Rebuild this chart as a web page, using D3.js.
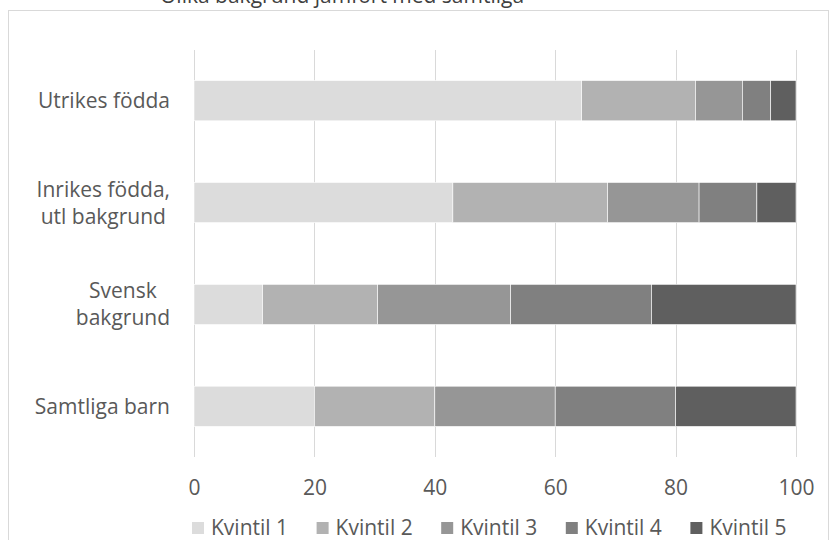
<!DOCTYPE html>
<html>
<head>
<meta charset="utf-8">
<script src="https://cdn.jsdelivr.net/npm/d3@7"></script>
<style>
  html, body { margin: 0; padding: 0; background: #fff; }
  svg { display: block; }
  text { font-family: "Open Sans", "Noto Sans", sans-serif; fill: #595959; }
</style>
</head>
<body>
<svg id="chart" width="831" height="540"></svg>
<script>
const title = "Olika bakgrund jämfört med samtliga";
const categories = ["Utrikes födda", "Inrikes födda, utl bakgrund", "Svensk bakgrund", "Samtliga barn"];
const categoryLines = [["Utrikes födda"], ["Inrikes födda,", "utl bakgrund"], ["Svensk", "bakgrund"], ["Samtliga barn"]];
const seriesNames = ["Kvintil 1", "Kvintil 2", "Kvintil 3", "Kvintil 4", "Kvintil 5"];
const kvintil1 = [64.4, 43.0, 11.4, 20];
const kvintil2 = [18.9, 25.7, 19.1, 20];
const kvintil3 = [7.8, 15.2, 22.1, 20];
const kvintil4 = [4.7, 9.6, 23.4, 20];
const kvintil5 = [4.2, 6.5, 24.0, 20];
const xTicks = [0, 20, 40, 60, 80, 100];
const colors = ["#dcdcdc", "#b2b2b2", "#969696", "#808080", "#5f5f5f"];

const seriesValues = [kvintil1, kvintil2, kvintil3, kvintil4, kvintil5];
const rows = categories.map((c, i) => {
  const r = { category: c };
  seriesNames.forEach((s, j) => r[s] = seriesValues[j][i]);
  return r;
});

const svg = d3.select("#chart");

// outer frame
svg.append("rect").attr("x", 8.5).attr("y", 10.5).attr("width", 820).attr("height", 560)
  .attr("fill", "none").attr("stroke", "#d9d9d9").attr("stroke-width", 1);

// title (partly clipped at top, as in the reference)
svg.append("text").attr("x", 160).attr("y", 3).attr("font-size", 21)
  .style("fill", "#404040").text(title);

const margin = { left: 194, right: 35, top: 50, bottom: 83 };
const W = 831, H = 540;
const FS = 21;
const x = d3.scaleLinear().domain([0, 100]).range([margin.left, W - margin.right]);
const y = d3.scaleBand().domain(categories).range([margin.top, H - margin.bottom]).paddingInner(0.605).paddingOuter(0.3);

// gridlines
svg.append("g").selectAll("line").data(xTicks).join("line")
  .attr("x1", d => Math.round(x(d)) + 0.5).attr("x2", d => Math.round(x(d)) + 0.5)
  .attr("y1", margin.top).attr("y2", H - margin.bottom)
  .attr("stroke", "#d9d9d9").attr("stroke-width", 1);

// bars
const stack = d3.stack().keys(seriesNames)(rows);
svg.append("g").selectAll("g").data(stack).join("g")
  .attr("fill", (d, i) => colors[i])
  .selectAll("rect").data(d => d).join("rect")
  .attr("x", d => x(d[0]))
  .attr("width", d => x(d[1]) - x(d[0]))
  .attr("y", d => y(d.data.category))
  .attr("height", y.bandwidth())
  .attr("stroke", "#ffffff").attr("stroke-width", 0.6);

// x axis tick labels
const xAxis = d3.axisBottom(x).tickValues(xTicks).tickSize(0).tickPadding(0).tickFormat(d3.format("d"));
const gx = svg.append("g").attr("transform", `translate(0,${H - margin.bottom})`).call(xAxis);
gx.select(".domain").remove();
gx.selectAll("text").attr("font-size", FS).attr("dy", null).attr("y", 38)
  .style("font-family", "'Open Sans', 'Noto Sans', sans-serif").style("fill", "#595959");

// category labels (block right-aligned, lines centred within block)
const rightEdge = 170, lineH = 27;
categories.forEach((c, i) => {
  const lines = categoryLines[i];
  const cy = y(c) + y.bandwidth() / 2;
  const g = svg.append("g");
  const texts = lines.map((ln, k) => g.append("text")
    .attr("font-size", FS)
    .attr("text-anchor", "middle")
    .attr("y", cy + 7.5 + (k - (lines.length - 1) / 2) * lineH)
    .text(ln));
  const maxW = d3.max(texts, t => t.node().getComputedTextLength());
  texts.forEach(t => t.attr("x", rightEdge - maxW / 2));
});

// legend
const legend = svg.append("g");
seriesNames.forEach((s, i) => {
  const lx = 192 + i * 124.6;
  legend.append("rect").attr("x", lx).attr("y", 522).attr("width", 12).attr("height", 12).attr("fill", colors[i]);
  legend.append("text").attr("x", lx + 19).attr("y", 535).attr("font-size", FS).text(s);
});
</script>
</body>
</html>
